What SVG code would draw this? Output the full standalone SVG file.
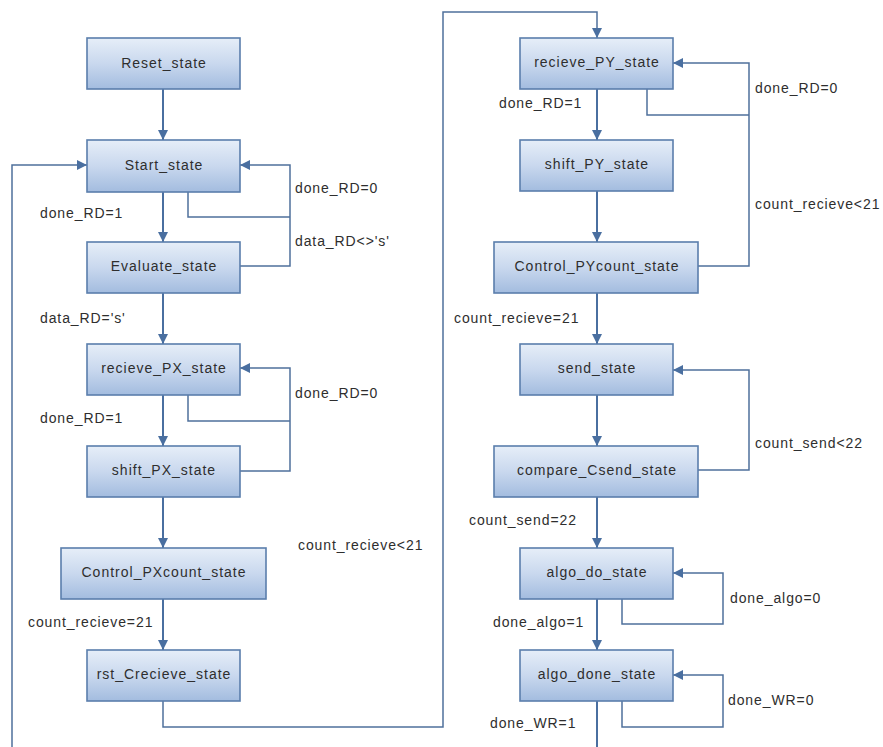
<svg xmlns="http://www.w3.org/2000/svg" width="883" height="747" viewBox="0 0 883 747">
  <defs>
    <linearGradient id="boxFill" x1="0" y1="0" x2="0" y2="1">
      <stop offset="0" stop-color="#e6eef8"/>
      <stop offset="0.5" stop-color="#c9d8ee"/>
      <stop offset="1" stop-color="#a3bcdf"/>
    </linearGradient>
    <marker id="arrow" viewBox="0 0 10 10" refX="10" refY="5" markerWidth="10" markerHeight="10" markerUnits="userSpaceOnUse" orient="auto">
      <path d="M0,0 L10,5 L0,10 z" fill="#4a6fa0"/>
    </marker>
  </defs>
  <style>
    .box { fill: url(#boxFill); stroke: #5a7eac; stroke-width: 1.6; }
    .name { font-family: "Liberation Sans", Arial, sans-serif; font-size: 14px; letter-spacing: 1px; fill: #2e2e2e; text-anchor: middle; dominant-baseline: central; }
    .lbl { font-family: "Liberation Sans", Arial, sans-serif; font-size: 14px; letter-spacing: 0.9px; fill: #2e2e2e; dominant-baseline: central; }
    .main { fill: none; stroke: #4a6fa0; stroke-width: 2; }
    .loop { fill: none; stroke: #4f709c; stroke-width: 1.5; }
  </style>
  <rect width="883" height="747" fill="#ffffff"/>

  <!-- transitions -->
  <g id="connectors">
    <!-- left column -->
    <path class="main" d="M163,89 V140" marker-end="url(#arrow)"/>
    <path class="main" d="M163,192 V242" marker-end="url(#arrow)"/>
    <path class="main" d="M163,293 V344" marker-end="url(#arrow)"/>
    <path class="main" d="M163,395 V446" marker-end="url(#arrow)"/>
    <path class="main" d="M163,497 V548" marker-end="url(#arrow)"/>
    <path class="main" d="M163,599 V650" marker-end="url(#arrow)"/>
    <path class="loop" d="M188,192 V217 H290"/>
    <path class="loop" d="M240,266 H290 V165 H240" marker-end="url(#arrow)"/>
    <path class="loop" d="M188,395 V421 H290"/>
    <path class="loop" d="M240,471 H290 V368 H240" marker-end="url(#arrow)"/>
    <!-- return into Start_state -->
    <path class="loop" d="M12,747 V165 H87" marker-end="url(#arrow)"/>
    <!-- rst_Crecieve_state to recieve_PY_state -->
    <path class="loop" d="M163,701 V727 H443 V12 H597 V38" marker-end="url(#arrow)"/>

    <!-- right column -->
    <path class="main" d="M597,89 V140" marker-end="url(#arrow)"/>
    <path class="main" d="M597,191 V242" marker-end="url(#arrow)"/>
    <path class="main" d="M597,293 V344" marker-end="url(#arrow)"/>
    <path class="main" d="M597,395 V446" marker-end="url(#arrow)"/>
    <path class="main" d="M597,497 V548" marker-end="url(#arrow)"/>
    <path class="main" d="M597,599 V650" marker-end="url(#arrow)"/>
    <path class="main" d="M597,701 V747"/>
    <path class="loop" d="M647,89 V115 H749"/>
    <path class="loop" d="M698,266 H749 V63 H673" marker-end="url(#arrow)"/>
    <path class="loop" d="M698,470 H749 V370 H673" marker-end="url(#arrow)"/>
    <path class="loop" d="M622,599 V624 H723 V573 H673" marker-end="url(#arrow)"/>
    <path class="loop" d="M622,701 V727 H723 V675 H673" marker-end="url(#arrow)"/>
  </g>

  <!-- transition conditions -->
  <g id="labels">
    <text class="lbl" x="295" y="188">done_RD=0</text>
    <text class="lbl" x="40" y="213">done_RD=1</text>
    <text class="lbl" x="295" y="241">data_RD&lt;&gt;'s'</text>
    <text class="lbl" x="40" y="318">data_RD='s'</text>
    <text class="lbl" x="295" y="393">done_RD=0</text>
    <text class="lbl" x="40" y="418">done_RD=1</text>
    <text class="lbl" x="298" y="545">count_recieve&lt;21</text>
    <text class="lbl" x="28" y="622">count_recieve=21</text>

    <text class="lbl" x="755" y="88">done_RD=0</text>
    <text class="lbl" x="499" y="103">done_RD=1</text>
    <text class="lbl" x="755" y="204">count_recieve&lt;21</text>
    <text class="lbl" x="454" y="318">count_recieve=21</text>
    <text class="lbl" x="755" y="443">count_send&lt;22</text>
    <text class="lbl" x="469" y="520">count_send=22</text>
    <text class="lbl" x="730" y="598">done_algo=0</text>
    <text class="lbl" x="493" y="622">done_algo=1</text>
    <text class="lbl" x="728" y="700">done_WR=0</text>
    <text class="lbl" x="490" y="723">done_WR=1</text>
  </g>

  <!-- states -->
  <g id="reset_state"><rect class="box" x="87" y="38" width="153" height="51"/><text class="name" x="164" y="63">Reset_state</text></g>
  <g id="start_state"><rect class="box" x="87" y="140" width="153" height="52"/><text class="name" x="164" y="165">Start_state</text></g>
  <g id="evaluate_state"><rect class="box" x="87" y="242" width="153" height="51"/><text class="name" x="164" y="266">Evaluate_state</text></g>
  <g id="recieve_px_state"><rect class="box" x="87" y="344" width="153" height="51"/><text class="name" x="164" y="368">recieve_PX_state</text></g>
  <g id="shift_px_state"><rect class="box" x="87" y="446" width="153" height="51"/><text class="name" x="164" y="470">shift_PX_state</text></g>
  <g id="control_pxcount_state"><rect class="box" x="61" y="548" width="205" height="51"/><text class="name" x="164" y="572">Control_PXcount_state</text></g>
  <g id="rst_crecieve_state"><rect class="box" x="87" y="650" width="153" height="51"/><text class="name" x="164" y="674">rst_Crecieve_state</text></g>

  <g id="recieve_py_state"><rect class="box" x="520" y="38" width="153" height="51"/><text class="name" x="597" y="62">recieve_PY_state</text></g>
  <g id="shift_py_state"><rect class="box" x="520" y="140" width="153" height="51"/><text class="name" x="597" y="164">shift_PY_state</text></g>
  <g id="control_pycount_state"><rect class="box" x="494" y="242" width="204" height="51"/><text class="name" x="597" y="266">Control_PYcount_state</text></g>
  <g id="send_state"><rect class="box" x="520" y="344" width="153" height="51"/><text class="name" x="597" y="368">send_state</text></g>
  <g id="compare_csend_state"><rect class="box" x="494" y="446" width="204" height="51"/><text class="name" x="597" y="470">compare_Csend_state</text></g>
  <g id="algo_do_state"><rect class="box" x="520" y="548" width="153" height="51"/><text class="name" x="597" y="572">algo_do_state</text></g>
  <g id="algo_done_state"><rect class="box" x="520" y="650" width="153" height="51"/><text class="name" x="597" y="674">algo_done_state</text></g>
</svg>
